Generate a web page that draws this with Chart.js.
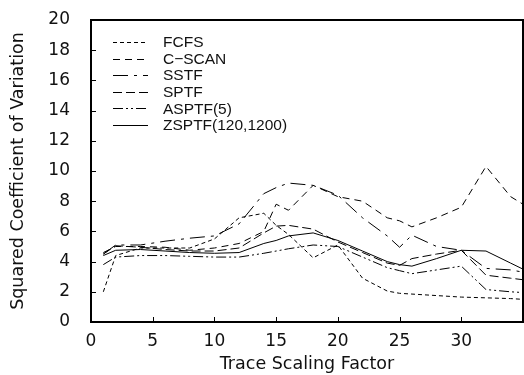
<!DOCTYPE html>
<html>
<head>
<meta charset="utf-8">
<script src="https://cdn.jsdelivr.net/npm/chart.js@4.4.0/dist/chart.umd.min.js"></script>
<style>
html, body { margin: 0; padding: 0; background: #fff; }
</style>
</head>
<body>
<canvas id="canvas" width="524" height="375"></canvas>
<script>
// trace scaling factors where each policy was measured
var scalingFactors = [1, 2, 4, 6, 8, 10, 12, 14, 15, 16, 18, 20, 22, 24, 25, 26, 28, 30, 32, 34, 35];

var fcfs   = [2.0, 4.4, 4.9, 4.9, 4.9, 5.5, 6.9, 7.2, 6.4, 5.8, 4.25, 5.1, 2.9, 2.05, 1.9, 1.85, 1.75, 1.65, 1.6, 1.55, 1.5];
var cscan  = [4.6, 5.0, 5.0, 4.95, 4.75, 4.9, 5.2, 6.0, 7.8, 7.4, 9.05, 8.3, 8.0, 6.9, 6.7, 6.3, 6.9, 7.6, 10.3, 8.3, 7.8];
var sstf   = [4.5, 5.1, 5.1, 5.35, 5.55, 5.7, 6.5, 8.5, 8.9, 9.2, 9.05, 8.4, 6.9, 5.7, 4.95, 5.75, 5.0, 4.75, 3.55, 3.45, 3.3];
var sptf   = [4.5, 5.05, 4.95, 4.8, 4.7, 4.7, 4.9, 5.9, 6.35, 6.4, 6.15, 5.3, 4.6, 3.9, 3.75, 4.2, 4.5, 4.75, 3.1, 2.9, 2.8];
var asptf  = [3.8, 4.3, 4.4, 4.4, 4.35, 4.3, 4.3, 4.55, 4.7, 4.85, 5.1, 5.0, 4.3, 3.6, 3.4, 3.2, 3.45, 3.7, 2.15, 2.0, 1.95];
var zsptf  = [4.4, 4.75, 4.8, 4.7, 4.6, 4.55, 4.6, 5.2, 5.4, 5.7, 5.9, 5.4, 4.7, 4.0, 3.8, 3.7, 4.2, 4.75, 4.7, 3.9, 3.5];

var seriesNames = ['FCFS', 'C\u2212SCAN', 'SSTF', 'SPTF', 'ASPTF(5)', 'ZSPTF(120,1200)'];
var xTicks = [0, 5, 10, 15, 20, 25, 30, 35];
var yTicks = [0, 2, 4, 6, 8, 10, 12, 14, 16, 18, 20];

var AXIS_FONT = '"DejaVu Sans", sans-serif';
var LEGEND_FONT = '"Liberation Sans", Arial, sans-serif';

function toPoints(values) {
    return scalingFactors.map((x, i) => ({ x: x, y: values[i] }));
}

var dashes = [[4, 3], [7, 5], [15, 6, 3, 6], [9, 4], [10, 3, 2, 3, 2, 3], []];
var allValues = [fcfs, cscan, sstf, sptf, asptf, zsptf];

var datasets = allValues.map((values, i) => ({
    label: seriesNames[i],
    data: toPoints(values),
    borderColor: '#000',
    borderWidth: 1,
    borderDash: dashes[i],
    pointRadius: 0,
    tension: 0,
    fill: false,
}));

// box around the plot, inward ticks and the legend inside the plot
var framePlugin = {
    id: 'frame',
    afterDraw(chart) {
        var ctx = chart.ctx;
        var area = chart.chartArea;
        var xs = chart.scales.x;
        var ys = chart.scales.y;
        ctx.save();
        ctx.strokeStyle = '#000';
        ctx.lineWidth = 1;
        ctx.setLineDash([]);
        ctx.beginPath();
        yTicks.forEach(v => {
            var py = Math.round(ys.getPixelForValue(v)) + 0.5;
            ctx.moveTo(area.left, py);
            ctx.lineTo(area.left + 5, py);
        });
        xTicks.forEach(v => {
            var px = Math.round(xs.getPixelForValue(v)) + 0.5;
            ctx.moveTo(px, area.bottom);
            ctx.lineTo(px, area.bottom - 5);
        });
        ctx.stroke();

        ctx.lineWidth = 2;
        ctx.strokeRect(area.left, area.top, area.right - area.left, area.bottom - area.top);

        // legend
        ctx.font = '15.5px ' + LEGEND_FONT;
        ctx.textBaseline = 'middle';
        ctx.fillStyle = '#111';
        chart.data.datasets.forEach((ds, i) => {
            var y = area.top + 22 + i * 16.6;
            ctx.lineWidth = 1;
            ctx.setLineDash(ds.borderDash);
            ctx.beginPath();
            ctx.moveTo(area.left + 22, Math.round(y) + 0.5);
            ctx.lineTo(area.left + 57, Math.round(y) + 0.5);
            ctx.stroke();
            ctx.fillText(ds.label, area.left + 72, y + 1);
        });
        ctx.restore();
    }
};

var ctx = document.getElementById('canvas').getContext('2d');
var chart = new Chart(ctx, {
    type: 'line',
    data: { datasets: datasets },
    plugins: [framePlugin],
    options: {
        responsive: false,
        animation: false,
        layout: { padding: { top: 20, right: 1, left: 0, bottom: 0 } },
        plugins: {
            legend: { display: false },
            tooltip: { enabled: false },
        },
        scales: {
            x: {
                type: 'linear',
                min: 0,
                max: 35,
                grid: { display: false },
                border: { display: false },
                afterBuildTicks: (scale) => { scale.ticks = xTicks.map(v => ({ value: v })); },
                afterFit: (scale) => {
                    scale.height = 53;
                    scale.paddingLeft = 0;
                    scale.paddingRight = 0;
                },
                ticks: {
                    color: '#111',
                    padding: 1,
                    maxRotation: 0,
                    font: { family: AXIS_FONT, size: 17 },
                    callback: (v) => (v < 35 ? v : ''),
                },
                title: {
                    display: true,
                    text: 'Trace Scaling Factor',
                    color: '#111',
                    font: { family: AXIS_FONT, size: 17.5 },
                    padding: { top: 0, bottom: 0 },
                },
            },
            y: {
                min: 0,
                max: 20,
                grid: { display: false },
                border: { display: false },
                afterBuildTicks: (scale) => { scale.ticks = yTicks.map(v => ({ value: v })); },
                afterFit: (scale) => {
                    scale.width = 91;
                    scale.paddingTop = 0;
                    scale.paddingBottom = 0;
                },
                ticks: {
                    color: '#111',
                    padding: 13,
                    font: { family: AXIS_FONT, size: 17 },
                },
                title: {
                    display: true,
                    text: 'Squared Coefficient of Variation',
                    color: '#111',
                    font: { family: AXIS_FONT, size: 17.5 },
                    padding: { top: 8, bottom: 0 },
                },
            },
        },
    },
});
</script>
</body>
</html>
